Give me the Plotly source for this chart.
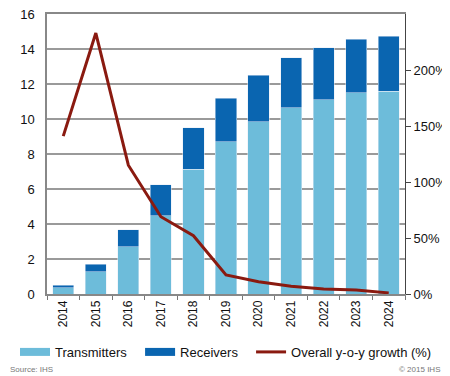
import plotly.graph_objects as go

years = ["2014", "2015", "2016", "2017", "2018", "2019", "2020", "2021", "2022", "2023", "2024"]
transmitters = [0.35, 1.26, 2.69, 4.46, 7.14, 8.69, 9.83, 10.63, 11.09, 11.49, 11.6]
receivers = [0.15, 0.45, 0.97, 1.77, 2.36, 2.51, 2.68, 2.86, 2.97, 3.08, 3.14]
growth = [141, 233, 115, 69, 52, 17, 11, 7, 4.5, 3.5, 1]

left_ticks = [0, 2, 4, 6, 8, 10, 12, 14, 16]
right_ticks = [0, 50, 100, 150, 200]
right_labels = ["0%", "50%", "100%", "150%", "200%"]

C_TX = "#6dbcda"
C_RX = "#0a65b0"
C_LINE = "#8a1a10"
FONT = "Liberation Sans, Arial, sans-serif"

fig = go.Figure()
fig.add_trace(go.Bar(x=years, y=transmitters, marker_color=C_TX, name="Transmitters",
                     showlegend=False))
fig.add_trace(go.Bar(x=years, y=receivers, marker_color=C_RX, name="Receivers",
                     showlegend=False))
fig.add_trace(go.Scatter(x=years, y=growth, yaxis="y2", mode="lines",
                         line=dict(color=C_LINE, width=3), showlegend=False))
# legend proxies (one legend each, to place them like the reference)
for nm, col, w, lg in [("Transmitters", C_TX, 8, "legend"), ("Receivers", C_RX, 8, "legend2"),
                       ("Overall y-o-y growth (%)", C_LINE, 3, "legend3")]:
    fig.add_trace(go.Scatter(x=[None], y=[None], mode="lines", name=nm, legend=lg,
                             line=dict(color=col, width=w)))

leg_common = dict(orientation="h", xanchor="left", yanchor="middle", y=-0.207,
                  font=dict(size=13), bgcolor="rgba(0,0,0,0)", itemwidth=30)

fig.update_layout(
    width=442, height=368,
    margin=dict(l=39, r=45, t=6, b=82, autoexpand=False),
    barmode="stack", bargap=0.35,
    plot_bgcolor="white", paper_bgcolor="white",
    font=dict(family=FONT, size=13, color="#111"),
    xaxis=dict(tickangle=-90, ticks="outside", tickson="boundaries", ticklen=4,
               tickcolor="#777", showline=True, linecolor="#888", linewidth=1.5,
               mirror=True, tickfont=dict(size=12), showgrid=False, automargin=False),
    yaxis=dict(range=[0, 16], tickmode="array", tickvals=left_ticks,
               ticktext=[str(v) for v in left_ticks], showgrid=True, gridcolor="#9a9a9a",
               gridwidth=1.5, showline=True, linecolor="#888", linewidth=1.5,
               zeroline=False, ticks="", ticklabelstandoff=8, ticklabeloverflow="allow",
               tickfont=dict(size=13), automargin=False),
    yaxis2=dict(range=[0, 250], tickmode="array", tickvals=right_ticks, ticktext=right_labels,
                overlaying="y", side="right", showgrid=False, showline=True,
                linecolor="#444", linewidth=1, ticks="outside", ticklen=5, tickcolor="#444",
                zeroline=False, tickfont=dict(size=13), automargin=False,
                ticklabeloverflow="allow"),
    legend=dict(x=-0.0894, **leg_common),
    legend2=dict(x=0.26, **leg_common),
    legend3=dict(x=0.57, **leg_common),
    annotations=[
        dict(text="Source: IHS", x=-0.109, y=-0.268, xref="paper", yref="paper",
             xanchor="left", yanchor="middle", showarrow=False,
             font=dict(size=8, color="#777")),
        dict(text="© 2015 IHS", x=1.103, y=-0.268, xref="paper", yref="paper",
             xanchor="right", yanchor="middle", showarrow=False,
             font=dict(size=8, color="#777")),
    ],
)
fig.write_html("out.html")
